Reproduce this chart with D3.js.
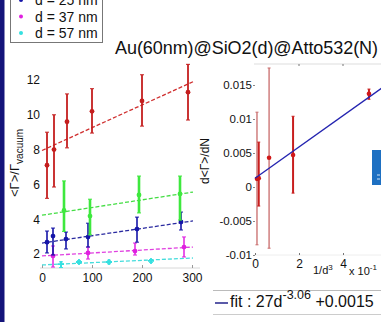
<!DOCTYPE html>
<html>
<head>
<meta charset="utf-8">
<title>Au@SiO2@Atto532</title>
<script src="https://d3js.org/d3.v7.min.js"></script>
<style>
  body { margin: 0; background: #fff; }
  svg { display: block; font-family: "Liberation Sans", Arial, sans-serif; }
  .tick text { fill: #111; }
</style>
</head>
<body>
<svg id="main" width="381" height="322"></svg>
<script>
// ---- left chart: <Γ>/Γvacuum vs N, one series per shell thickness
const xRed = [10, 24, 50, 100, 200, 292];
const yRed = [7.1, 8.0, 9.6, 10.2, 10.8, 11.3];
const loRed = [5.2, 5.85, 8.1, 8.95, 9.35, 9.7];
const hiRed = [9.0, 10.0, 11.2, 11.5, 12.3, 12.9];

const xGreen = [44, 96, 194, 276];
const yGreen = [4.5, 4.18, 5.39, 5.45];
const loGreen = [3.3, 3.1, 4.36, 3.95];
const hiGreen = [6.2, 5.15, 6.48, 6.48];

const xBlue = [10, 22, 48, 92, 190, 278];
const yBlue = [2.68, 3.03, 2.86, 2.97, 3.43, 3.84];
const loBlue = [2.06, 1.94, 2.29, 2.4, 2.68, 3.38];
const hiBlue = [3.32, 3.49, 3.26, 3.77, 4.12, 4.41];

const xMag = [22, 92, 186, 284];
const yMag = [1.89, 2.06, 2.17, 2.4];
const loMag = [1.25, 1.71, 1.94, 1.83];
const hiMag = [2.46, 2.4, 2.63, 2.98];

const xCyan = [38, 74, 134, 218];
const yCyan = [1.42, 1.54, 1.54, 1.6];
const loCyan = [1.22, 1.46, 1.44, 1.52];
const hiCyan = [1.55, 1.62, 1.64, 1.68];

// linear fits, value at N = 0 and N = 302
const fitX = [0, 302];
const fitRed = [7.95, 11.9];
const fitGreen = [4.23, 5.56];
const fitBlue = [2.63, 3.9];
const fitMag = [1.89, 2.4];
const fitCyan = [1.37, 1.77];

const leftXTicks = [0, 100, 200, 300];
const leftYTicks = [2, 4, 6, 8, 10, 12];

const legendLabels = ['d = 25 nm', 'd = 37 nm', 'd = 57 nm'];

// ---- right chart: d<Γ>/dN vs 1/d^3
const xSlope = [0.09, 0.17, 0.64, 1.73, 5.18];
const ySlope = [0.0012, 0.0013, 0.0043, 0.0047, 0.0137];
const loSlope = [-0.0085, -0.0028, -0.009, -0.0009, 0.0129];
const hiSlope = [0.011, 0.0066, 0.0175, 0.0104, 0.0144];
const toneSlope = ['light', 'dark', 'light', 'dark', 'dark'];

const slopeFitX = [0, 6];
const slopeFitY = [0.0013, 0.0151];

const rightXTicks = [0, 2, 4];
const rightYTicks = [-0.01, -0.005, 0, 0.005, 0.01, 0.015];

const svg = d3.select('#main');

// dark frame stripe on the left
svg.append('rect').attr('x', 0).attr('y', 0).attr('width', 4.5).attr('height', 322)
  .attr('fill', '#14147a');

// ---------- left chart ----------
const xL = d3.scaleLinear().domain([0, 300]).range([42, 192]);
const yL = d3.scaleLinear().domain([0, 12]).range([288.8, 80]);

const axL = svg.append('g').attr('transform', 'translate(0,268)')
  .call(d3.axisBottom(xL).tickValues(leftXTicks).tickSize(-3).tickPadding(5)
    .tickFormat(d3.format('d')));
axL.select('.domain').attr('stroke', '#d8d8d8').attr('d', 'M40,0H200');
axL.selectAll('.tick line').attr('stroke', '#999');
axL.selectAll('text').attr('font-size', 12);

const ayL = svg.append('g').attr('transform', 'translate(41,0)')
  .call(d3.axisLeft(yL).tickValues(leftYTicks).tickSize(0).tickPadding(1)
    .tickFormat(d3.format('d')));
ayL.select('.domain').remove();
ayL.selectAll('text').attr('font-size', 12);

const fitLine = (ys, color) => {
  svg.append('line')
    .attr('x1', xL(fitX[0])).attr('y1', yL(ys[0]))
    .attr('x2', xL(fitX[1])).attr('y2', yL(ys[1]))
    .attr('stroke', color).attr('stroke-width', 1.3)
    .attr('stroke-dasharray', '4,2');
};

const series = (xs, ys, lo, hi, color, width, marker) => {
  const g = svg.append('g');
  xs.forEach((x, i) => {
    const px = xL(x);
    g.append('line').attr('x1', px).attr('x2', px)
      .attr('y1', yL(lo[i])).attr('y2', yL(hi[i]))
      .attr('stroke', color).attr('stroke-width', width);
    [lo[i], hi[i]].forEach(v => {
      g.append('line').attr('x1', px - 2).attr('x2', px + 2)
        .attr('y1', yL(v)).attr('y2', yL(v))
        .attr('stroke', color).attr('stroke-width', 1);
    });
    if (marker === 'plus') {
      g.append('path')
        .attr('d', `M${px - 3},${yL(ys[i])}h6M${px},${yL(ys[i]) - 3}v6`)
        .attr('stroke', color).attr('stroke-width', 1.8);
    } else {
      g.append('circle').attr('cx', px).attr('cy', yL(ys[i])).attr('r', 2.4)
        .attr('fill', color);
    }
  });
};

fitLine(fitCyan, '#45dcdc');
fitLine(fitMag, '#e040e0');
fitLine(fitBlue, '#2a2aa0');
fitLine(fitGreen, '#44dd44');
fitLine(fitRed, '#d03030');

series(xCyan, yCyan, loCyan, hiCyan, '#35e0e0', 1.5, 'plus');
series(xMag, yMag, loMag, hiMag, '#e020e0', 1.5, 'dot');
series(xBlue, yBlue, loBlue, hiBlue, '#1515a8', 1.6, 'dot');
series(xGreen, yGreen, loGreen, hiGreen, '#3ee83e', 2.6, 'dot');
series(xRed, yRed, loRed, hiRed, '#c41e1e', 1.8, 'dot');

// y label <Γ>/Γvacuum
const yLab = svg.append('text')
  .attr('transform', 'translate(19,197) rotate(-90)')
  .attr('font-size', 13).attr('fill', '#111');
yLab.append('tspan').text('<Γ>/Γ');
yLab.append('tspan').attr('dy', 4).attr('font-size', 10).text('vacuum');

// legend (top cut off)
svg.append('rect').attr('x', 10.5).attr('y', -20).attr('width', 92).attr('height', 62.5)
  .attr('fill', '#fff').attr('stroke', '#777').attr('stroke-width', 1);
const legColors = ['#1515a8', '#e020e0', '#35e0e0'];
legendLabels.forEach((t, i) => {
  const y = 0 + i * 16.5;
  svg.append('circle').attr('cx', 21).attr('cy', y).attr('r', 2).attr('fill', legColors[i]);
  svg.append('text').attr('x', 35).attr('y', y + 5).attr('font-size', 14)
    .attr('fill', '#111').text(t);
});

// title
svg.append('text').attr('x', 115).attr('y', 54).attr('font-size', 18)
  .attr('textLength', 263).attr('fill', '#111')
  .text('Au(60nm)@SiO2(d)@Atto532(N)');

// ---------- right chart ----------
const xR = d3.scaleLinear().domain([0, 6]).range([255, 387]);
const yR = d3.scaleLinear().domain([-0.01, 0.015]).range([255, 85]);

svg.append('line').attr('x1', 254).attr('x2', 381).attr('y1', 64).attr('y2', 64)
  .attr('stroke', '#ddd');
rightXTicks.slice(1).forEach(t => {
  svg.append('line').attr('x1', xR(t)).attr('x2', xR(t)).attr('y1', 64).attr('y2', 66)
    .attr('stroke', '#777');
});

const axR = svg.append('g').attr('transform', 'translate(0,255)')
  .call(d3.axisBottom(xR).tickValues(rightXTicks).tickSize(-2).tickPadding(4)
    .tickFormat(d3.format('d')));
axR.select('.domain').attr('stroke', '#eee').attr('d', 'M254,0H381');
axR.selectAll('.tick line').attr('stroke', '#777');
axR.selectAll('text').attr('font-size', 12);

const ayR = svg.append('g').attr('transform', 'translate(255,0)')
  .call(d3.axisLeft(yR).tickValues(rightYTicks).tickSize(2).tickPadding(1)
    .tickFormat(d => String(+d.toFixed(3))));
ayR.select('.domain').remove();
ayR.selectAll('.tick line').attr('stroke', '#888');
ayR.selectAll('text').attr('font-size', 11.5).attr('dy', '0.3em');

const rg = svg.append('g');
xSlope.forEach((x, i) => {
  const c = toneSlope[i] === 'light' ? '#c86a6a' : '#c81e1e';
  const px = xR(x);
  rg.append('line').attr('x1', px).attr('x2', px)
    .attr('y1', yR(loSlope[i])).attr('y2', yR(hiSlope[i]))
    .attr('stroke', c).attr('stroke-width', toneSlope[i] === 'light' ? 1.3 : 2);
  [loSlope[i], hiSlope[i]].forEach(v => {
    rg.append('line').attr('x1', px - 1.5).attr('x2', px + 1.5)
      .attr('y1', yR(v)).attr('y2', yR(v)).attr('stroke', c).attr('stroke-width', 1);
  });
});
svg.append('line')
  .attr('x1', xR(slopeFitX[0])).attr('y1', yR(slopeFitY[0]))
  .attr('x2', xR(slopeFitX[1])).attr('y2', yR(slopeFitY[1]))
  .attr('stroke', '#2424b0').attr('stroke-width', 1.3);
xSlope.forEach((x, i) => {
  rg.append('circle').attr('cx', xR(x)).attr('cy', yR(ySlope[i])).attr('r', 2.3)
    .attr('fill', '#d01818');
});

// right y label
svg.append('text').attr('transform', 'translate(209,161) rotate(-90)')
  .attr('text-anchor', 'middle').attr('font-size', 12).attr('fill', '#111')
  .text('d<Γ>/dN');

// x label and multiplier
const xLab = svg.append('text').attr('x', 313).attr('y', 274).attr('font-size', 11).attr('fill', '#111');
xLab.append('tspan').text('1/d');
xLab.append('tspan').attr('dy', -4).attr('font-size', 8).text('3');
const mult = svg.append('text').attr('x', 349).attr('y', 275).attr('font-size', 11).attr('fill', '#111');
mult.append('tspan').text('x 10');
mult.append('tspan').attr('dy', -5).attr('font-size', 8).text('-1');

// blue widget at the right edge
svg.append('rect').attr('x', 372).attr('y', 150).attr('width', 10).attr('height', 35)
  .attr('fill', '#1e70c2');
svg.append('path').attr('d', 'M377,175h3M377,179h3').attr('stroke', '#cfe3f5').attr('stroke-width', 1);

// fit legend
svg.append('line').attr('x1', 213).attr('x2', 381).attr('y1', 290.5).attr('y2', 290.5).attr('stroke', '#bbb');
svg.append('line').attr('x1', 213).attr('x2', 381).attr('y1', 314.5).attr('y2', 314.5).attr('stroke', '#ccc');
svg.append('line').attr('x1', 215).attr('x2', 228).attr('y1', 303).attr('y2', 303)
  .attr('stroke', '#5a5aa8').attr('stroke-width', 2);
const fitTxt = svg.append('text').attr('x', 230).attr('y', 307).attr('font-size', 16).attr('fill', '#111');
fitTxt.append('tspan').text('fit : 27d');
fitTxt.append('tspan').attr('dy', -8).attr('font-size', 12.5).text('-3.06');
fitTxt.append('tspan').attr('dy', 8).text(' +0.0015');
</script>
</body>
</html>
